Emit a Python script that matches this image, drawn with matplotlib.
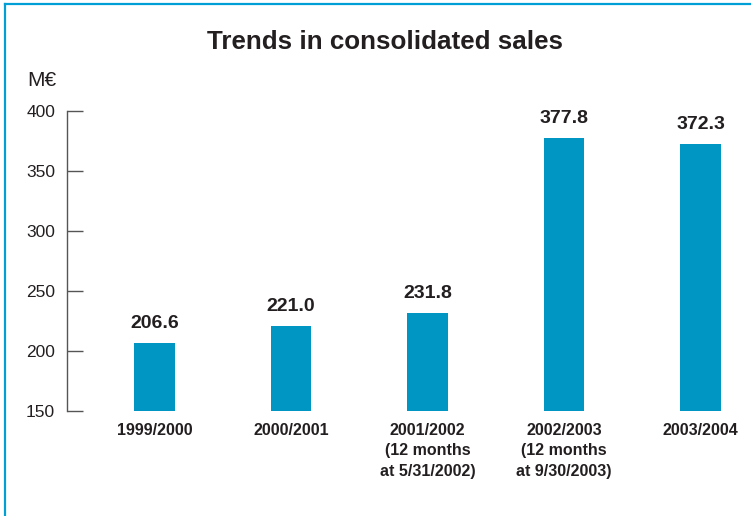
import numpy as np
import matplotlib
matplotlib.use('Agg')
from matplotlib import pyplot as plt
from matplotlib.lines import Line2D

plt.rcParams['font.family'] = ['Liberation Sans', 'DejaVu Sans']

periods = ['1999/2000', '2000/2001', '2001/2002\n(12 months\nat 5/31/2002)',
           '2002/2003\n(12 months\nat 9/30/2003)', '2003/2004']
sales = [206.6, 221.0, 231.8, 377.8, 372.3]
yticks = [150, 200, 250, 300, 350, 400]

bar_color = '#0096c4'
text_color = '#231f20'
axis_color = '#555555'

fig = plt.figure(figsize=(7.51, 5.16), dpi=100)
ax = fig.add_axes([67 / 751, 1 - 411 / 516, (751 - 67) / 751, 300 / 516])

x = np.arange(len(sales))
base = yticks[0]
ax.bar(x, np.array(sales) - base, bottom=base, width=0.3, color=bar_color)

for xi, v in zip(x, sales):
    ax.annotate(f'{v:.1f}', (xi, v), xytext=(0, 8), textcoords='offset points',
                ha='center', va='bottom', fontsize=14, fontweight='bold',
                color=text_color)

ax.set_xlim(-0.641, 4.37)
ax.set_ylim(150, 400)
ax.set_yticks(yticks)
ax.set_xticks(x)
ax.set_xticklabels(periods, fontsize=11.5, fontweight='bold', color=text_color,
                   linespacing=1.45, va='top')

for side in ['top', 'right', 'bottom']:
    ax.spines[side].set_visible(False)
ax.spines['left'].set_color(axis_color)
ax.spines['left'].set_linewidth(1.0)
ax.tick_params(axis='y', direction='in', length=11.5, width=1.0, color=axis_color,
               pad=8.5, labelsize=12.5, labelcolor=text_color)
ax.tick_params(axis='x', length=0, pad=8.5)

fig.text(385 / 751, 1 - 42 / 516, 'Trends in consolidated sales', ha='center',
         va='center', fontsize=18.7, fontweight='bold', color=text_color)
fig.text(27 / 751, 1 - 80 / 516, 'M€', ha='left', va='center', fontsize=15,
         color=text_color)

# blue frame on the left and top edges
frame = '#009fd6'
fig.add_artist(Line2D([4.5 / 751, 4.5 / 751], [0, 1 - 3.5 / 516],
                      transform=fig.transFigure, color=frame, lw=1.6))
fig.add_artist(Line2D([4.5 / 751, 1], [1 - 4 / 516, 1 - 4 / 516],
                      transform=fig.transFigure, color=frame, lw=1.6))

fig.savefig('out.png', dpi=100)
